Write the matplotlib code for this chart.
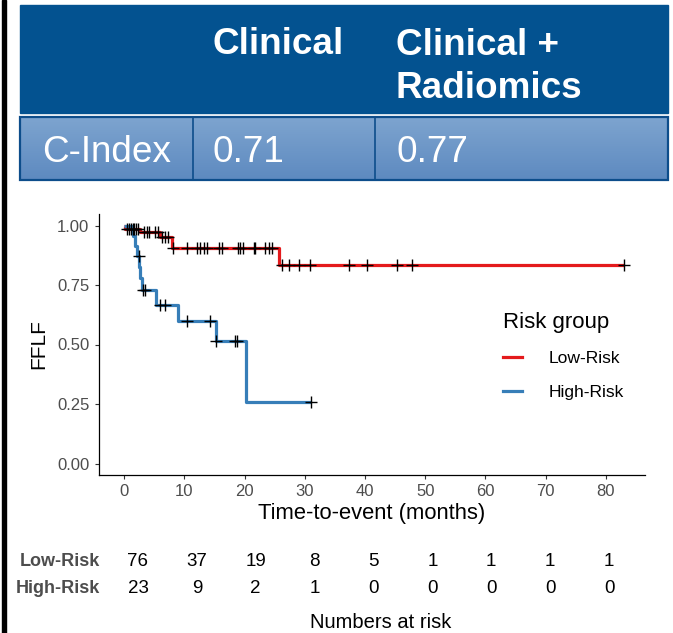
"""
Kaplan-Meier curves of freedom from local failure (FFLF) by risk group,
with the C-index comparison panel above and the numbers-at-risk table below.
"""

import numpy as np
import matplotlib.pyplot as plt
from matplotlib.patches import Rectangle
from matplotlib.lines import Line2D

plt.rcParams['font.family'] = ['Liberation Sans', 'DejaVu Sans']

# --------------------------------------------------------------------
# Data
# --------------------------------------------------------------------

MODELS = ["Clinical", "Clinical +\nRadiomics"]
C_INDEX = [0.71, 0.77]

# step times (months) and survival after each step
LOW_TIMES = [0, 0.2, 2.7, 6.0, 7.9, 25.8]
LOW_SURV = [1.0, 0.987, 0.973, 0.951, 0.907, 0.832]
LOW_END = 83.0
LOW_CENSOR = [0.5, 0.8, 1.1, 1.4, 1.7, 2.0, 2.3, 3.3, 3.8, 4.2, 5.2, 5.6,
              6.3, 6.8, 7.3, 8.2, 10.4, 12.1, 12.6, 13.2, 13.7, 15.7, 16.2,
              18.9, 19.3, 19.8, 21.5, 21.8, 23.4, 24.0, 24.5, 26.3, 27.3,
              29.0, 30.8, 37.3, 40.3, 45.3, 47.8, 83.0]

HIGH_TIMES = [0, 1.5, 1.8, 2.1, 2.5, 2.7, 2.9, 5.3, 8.9, 15.2, 20.2]
HIGH_SURV = [1.0, 0.957, 0.913, 0.870, 0.824, 0.778, 0.727, 0.668, 0.598,
             0.514, 0.257]
HIGH_END = 31.0
HIGH_CENSOR = [2.4, 3.1, 3.5, 6.0, 6.8, 10.4, 14.3, 15.3, 18.4, 18.7, 31.0]

RISK_TIMES = [0, 10, 20, 30, 40, 50, 60, 70, 80]
LOW_AT_RISK = [76, 37, 19, 8, 5, 1, 1, 1, 1]
HIGH_AT_RISK = [23, 9, 2, 1, 0, 0, 0, 0, 0]

GROUPS = ["Low-Risk", "High-Risk"]
COLORS = ["#E41A1C", "#377EB8"]

W, H = 673, 633
fig = plt.figure(figsize=(W / 100, H / 100), dpi=100)


def px_box(x0, y0, x1, y1):
    # pixel box (top-left origin) -> figure fraction rect
    return [x0 / W, 1 - y1 / H, (x1 - x0) / W, (y1 - y0) / H]


def step_value(times, surv, t):
    idx = np.searchsorted(times, t, side="right") - 1
    return np.asarray(surv)[idx]


# --------------------------------------------------------------------
# C-index panel
# --------------------------------------------------------------------

tab = fig.add_axes([0, 0, 1, 1], zorder=0)
tab.set_xlim(0, W)
tab.set_ylim(H, 0)
tab.axis("off")

tab.add_patch(Rectangle((1.5, 0), 4, H, color="black"))
tab.add_patch(Rectangle((20, 5), 648, 108, color="#035290"))

grad = np.linspace(0, 1, 64)[:, None]
top_col = np.array([0x7D, 0xA4, 0xCF]) / 255
bot_col = np.array([0x5E, 0x8A, 0xC0]) / 255
tab.imshow(top_col + grad[..., None] * (bot_col - top_col),
           extent=(20, 668, 180, 117), aspect="auto", zorder=1)
tab.add_patch(Rectangle((20, 117), 648, 63, fill=False,
                        edgecolor="#0D4D8B", linewidth=1.6, zorder=2))
for sep in (193, 375):
    tab.plot([sep, sep], [117, 180], color="#0D4D8B", linewidth=1.2, zorder=2)

col_x = [213, 396]
for x, name, val in zip(col_x, MODELS, C_INDEX):
    # baseline of a wrapped label sits on its last line
    y_base = 53.5 + 45 * name.count("\n")
    tab.text(x, y_base, name, color="white", fontsize=26.6, fontweight="bold",
             va="baseline", ha="left", linespacing=1.33, zorder=3)
    tab.text(x, 162, f"{val:.2f}", color="white", fontsize=26.6,
             va="baseline", ha="left", zorder=3)
tab.text(42, 162, "C-Index", color="white", fontsize=26.6,
         va="baseline", ha="left", zorder=3)

# --------------------------------------------------------------------
# Kaplan-Meier plot
# --------------------------------------------------------------------

ax = fig.add_axes(px_box(99, 213.6, 645, 475.4), zorder=2)
ax.patch.set_alpha(0)

curves = [(LOW_TIMES, LOW_SURV, LOW_END, LOW_CENSOR),
          (HIGH_TIMES, HIGH_SURV, HIGH_END, HIGH_CENSOR)]

for (times, surv, end, cens), color in zip(curves, COLORS):
    ax.step(list(times) + [end], list(surv) + [surv[-1]], where="post",
            color=color, linewidth=2.3, solid_capstyle="butt")

for times, surv, end, cens in curves:
    ax.plot(cens, step_value(times, surv, cens), linestyle="none",
            marker="+", markersize=8.5, markeredgewidth=1.0, color="black")

ax.set_xlim(-4.17, 86.5)
ax.set_ylim(-0.05, 1.05)
ax.set_xticks(RISK_TIMES)
ax.set_yticks([0, 0.25, 0.5, 0.75, 1.0])
ax.set_yticklabels(["0.00", "0.25", "0.50", "0.75", "1.00"])

for side in ("top", "right"):
    ax.spines[side].set_visible(False)
for side in ("left", "bottom"):
    ax.spines[side].set_linewidth(0.9)

ax.tick_params(colors="#333333", labelcolor="#4D4D4D", labelsize=12,
               length=3, width=0.8)
ax.tick_params(axis="y", pad=4)
ax.tick_params(axis="x", pad=3)

ax.set_xlabel("Time-to-event (months)", fontsize=15.8, labelpad=3)
ax.set_ylabel("FFLF", fontsize=15, labelpad=6)

handles = [Line2D([], [], color=c, linewidth=2.3) for c in COLORS]
leg = ax.legend(handles, GROUPS, title="Risk group", loc="upper left",
                bbox_to_anchor=(494 / W, 1 - 303 / H),
                bbox_transform=fig.transFigure, frameon=False,
                fontsize=12.6, title_fontsize=16, handlelength=1.1,
                handletextpad=1.5, labelspacing=1.05, borderpad=0,
                alignment="left")

# --------------------------------------------------------------------
# Numbers at risk
# --------------------------------------------------------------------

risk = fig.add_axes(px_box(99, 548, 651, 602.6), zorder=2)
risk.set_xlim(-6.62, 87.13)
risk.set_ylim(-0.5, 1.5)
risk.axis("off")

for row, counts in zip([1, 0], [LOW_AT_RISK, HIGH_AT_RISK]):
    for t, n in zip(RISK_TIMES, counts):
        risk.text(t, row, str(n), ha="center", va="center", fontsize=13.5)

for row, name in zip([1, 0], GROUPS):
    risk.text(-6.37, row, name, ha="right", va="center", fontsize=13,
              fontweight="bold", color="#4D4D4D")

fig.text(380.5 / W, 1 - 623 / H, "Numbers at risk", ha="center",
         va="center", fontsize=14.5)

fig.savefig("out.png", dpi=100)
